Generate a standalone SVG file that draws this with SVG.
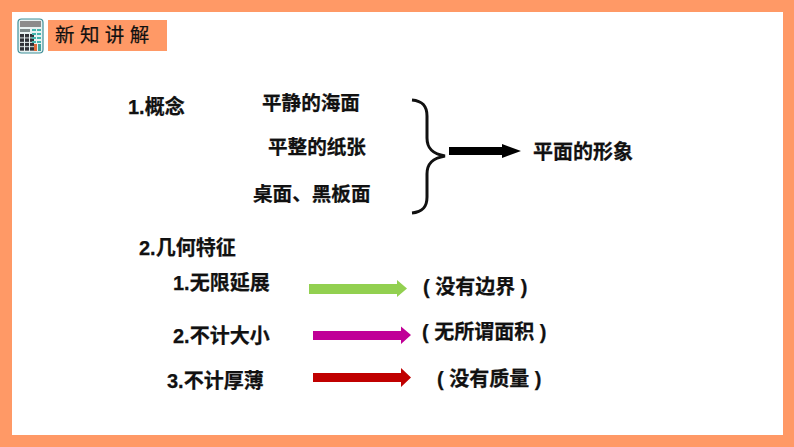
<svg xmlns="http://www.w3.org/2000/svg" width="794" height="447" viewBox="0 0 794 447">
<defs>
<pattern id="keys" x="20" y="34" width="5" height="4.4" patternUnits="userSpaceOnUse"><rect width="4" height="3.4" fill="#2f3136"/></pattern>
<pattern id="tealkeys" x="32" y="29" width="5" height="4" patternUnits="userSpaceOnUse"><rect width="4" height="2" fill="#45b5ae"/></pattern>
</defs>
<style>
text{font-family:"Liberation Sans","Noto Sans CJK SC",sans-serif;font-weight:bold;font-size:20px;fill:#111;stroke:#111;stroke-width:.25}
.s{font-size:19.6px}
.t{font-weight:normal;font-size:19.500px;stroke-width:.2}
</style>
<rect width="794" height="447" fill="#ff9966"/>
<rect x="12" y="12" width="771" height="423" fill="#fff"/>
<g id="icon">
<rect x="18" y="19" width="25" height="34" rx="3.500" fill="#e8f2f2" stroke="#3f8f98" stroke-width="1.200"/>
<rect x="20" y="21" width="21" height="6" fill="#8c8c8c"/>
<rect x="20" y="29" width="10" height="3" fill="#7d8a8a"/>
<rect x="20" y="34" width="15" height="17" fill="url(#keys)"/>
<rect x="32" y="29" width="9" height="14" fill="url(#tealkeys)"/>
<rect x="34" y="44" width="3" height="7" fill="#e06a3a"/>
<rect x="38" y="44" width="3" height="7" fill="#3fa09c"/>
</g>
<g id="title"><rect x="48" y="20" width="119" height="31" fill="#ff9966"/><text class="t" x="55" y="42">新 知 讲 解</text></g>
<g id="n1"><text x="128" y="114">1.概念</text></g>
<g id="n2"><text class="s" x="262" y="110">平静的海面</text></g>
<g id="n3"><text class="s" x="268" y="154">平整的纸张</text></g>
<g id="n4"><text class="s" x="253" y="201">桌面、黑板面</text></g>
<g id="n5"><text x="533" y="159">平面的形象</text></g>
<g id="n6"><text x="139" y="255">2.几何特征</text></g>
<g id="n7"><text x="173" y="290">1.无限延展</text></g>
<g id="n8"><text x="173" y="343">2.不计大小</text></g>
<g id="n9"><text x="167" y="388">3.不计厚薄</text></g>
<g id="n10"><text x="423" y="294">( 没有边界 )</text></g>
<g id="n11"><text x="422" y="339">( 无所谓面积 )</text></g>
<g id="n12"><text x="437" y="386">( 没有质量 )</text></g>
<g id="connectors">
<path d="M412 100C423 101 427 106 427 116V138C427 149 433 154 445 156C433 158 427 163 427 174V197C427 207 423 212 412 213" fill="none" stroke="#111" stroke-width="3"/>
<path d="M449 147H502V144L521 151L502 158V155H449Z" fill="#000"/>
<path d="M309 284H397V280L407 288.500L397 297V294H309Z" fill="#92d050"/>
<path d="M313 331H401V326.500L411 335L401 344V340H313Z" fill="#c00097"/>
<path d="M313 373H401V368L411 377.500L401 387V382H313Z" fill="#c00000"/>
</g>
</svg>
